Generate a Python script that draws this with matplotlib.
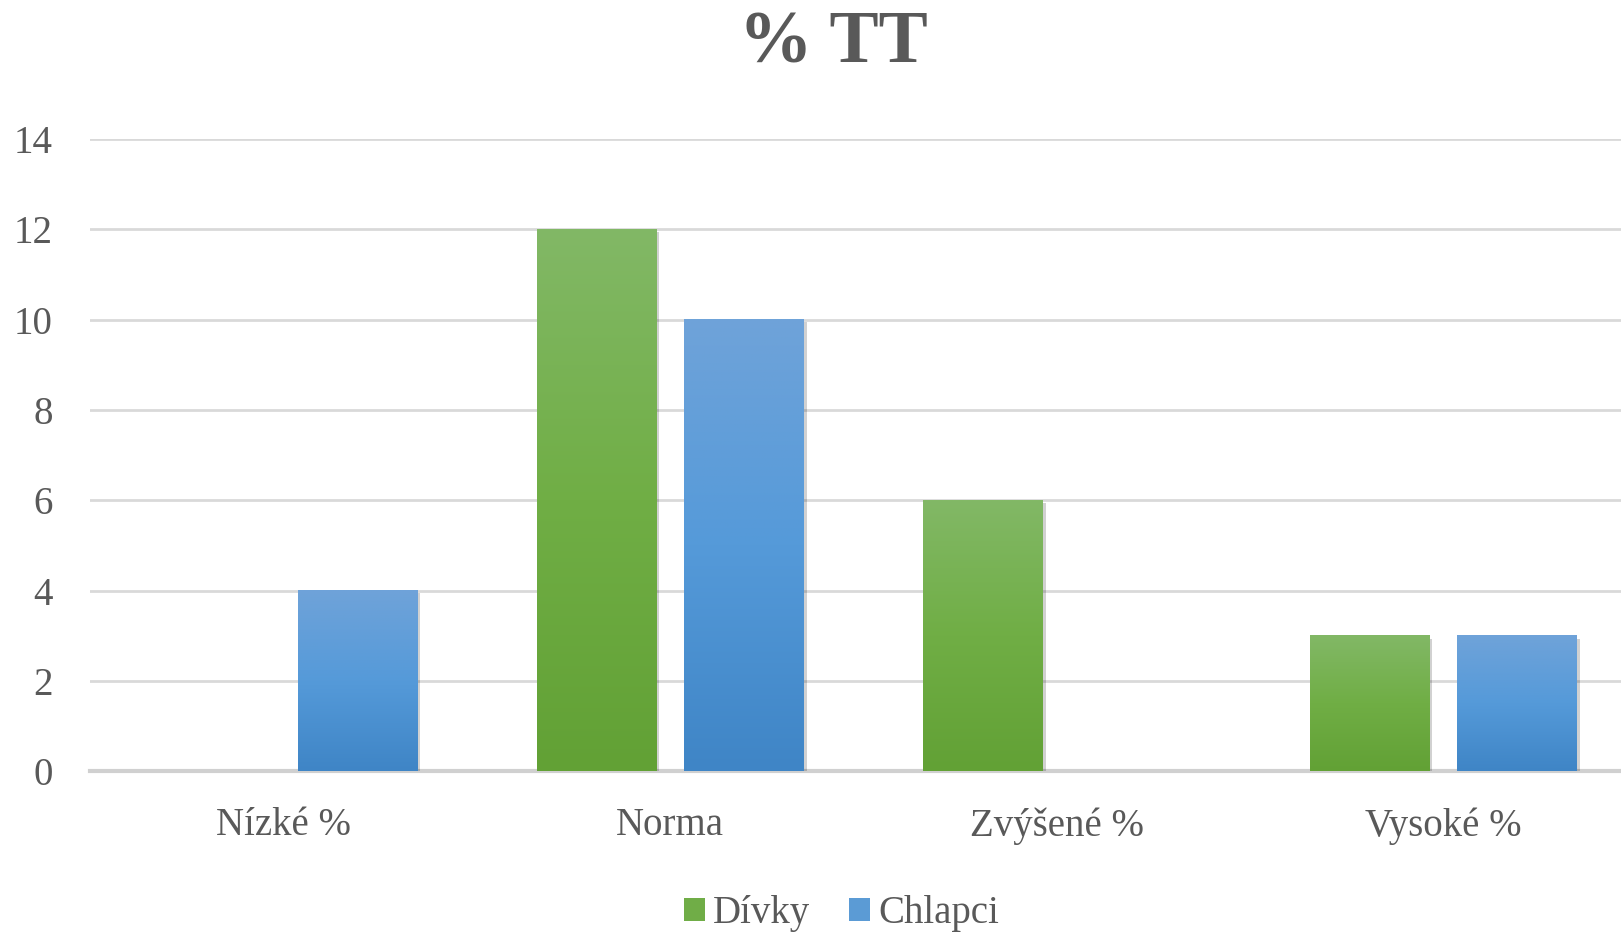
import numpy as np
import matplotlib
matplotlib.use('Agg')
import matplotlib.pyplot as plt
import matplotlib.patheffects as pe
from matplotlib.colors import LinearSegmentedColormap

categories = ['Nízké %', 'Norma', 'Zvýšené %', 'Vysoké %']
divky = [0, 12, 6, 3]
chlapci = [4, 10, 0, 3]
series_names = ['Dívky', 'Chlapci']
yticks = [0, 2, 4, 6, 8, 10, 12, 14]

plt.rcParams['font.family'] = ['Liberation Serif', 'DejaVu Serif']
grey = '#595959'

fig = plt.figure(figsize=(16.21, 9.36), dpi=100)
# plot area runs slightly past the right edge, as in the source
ax = fig.add_axes([0.0558, 0.176, 0.954, 0.6755])

x = np.arange(len(categories))
w = 0.31
gap = 0.072
off = (w + gap) / 2

shadow = [pe.SimplePatchShadow(offset=(2, -2), shadow_rgbFace='#000000', alpha=0.18), pe.Normal()]
b1 = ax.bar(x - off, divky, w, color='#70ad47', label=series_names[0], zorder=3, path_effects=shadow)
b2 = ax.bar(x + off, chlapci, w, color='#5b9bd5', label=series_names[1], zorder=3, path_effects=shadow)

# gradient fill on top of each bar
green_cm = LinearSegmentedColormap.from_list('g', ['#62a135', '#70ae45', '#82b866'])
blue_cm = LinearSegmentedColormap.from_list('b', ['#3f85c6', '#559ad9', '#6fa3d9'])
grad = np.linspace(0, 1, 256).reshape(-1, 1)
for bars, cm in ((b1, green_cm), (b2, blue_cm)):
    for p in bars:
        h = p.get_height()
        if h <= 0:
            continue
        x0 = p.get_x()
        ax.imshow(grad, cmap=cm, origin='lower', aspect='auto',
                  extent=(x0, x0 + p.get_width(), 0, h), zorder=4)

ax.set_xlim(-0.5, len(categories) - 0.5)
ax.set_ylim(0, 14)
ax.set_yticks(yticks)
ax.set_xticks(x)
ax.set_xticklabels(categories)
ax.tick_params(axis='both', length=0, labelsize=28, colors=grey)
ax.tick_params(axis='y', pad=27)
ax.tick_params(axis='x', pad=26)
ax.grid(axis='y', color='#d9d9d9', linewidth=2, zorder=0)
ax.set_axisbelow(True)
for s in ['top', 'right', 'left']:
    ax.spines[s].set_visible(False)
ax.spines['bottom'].set_color('#d0d0d0')
ax.spines['bottom'].set_linewidth(3)
ax.spines['bottom'].set_zorder(2)

fig.text(0.514, 0.952, '% TT', ha='center', va='center', fontsize=53,
         fontweight='bold', color=grey)

leg = fig.legend(handles=[b1, b2], labels=series_names, loc='center',
                 bbox_to_anchor=(0.519, 0.024), ncol=2, frameon=False,
                 fontsize=28, handlelength=0.55, handleheight=0.55,
                 handletextpad=0.2, columnspacing=1.0)
for t in leg.get_texts():
    t.set_color(grey)
for h in leg.legend_handles:
    h.set_path_effects([])

fig.savefig('out.png', dpi=100)
